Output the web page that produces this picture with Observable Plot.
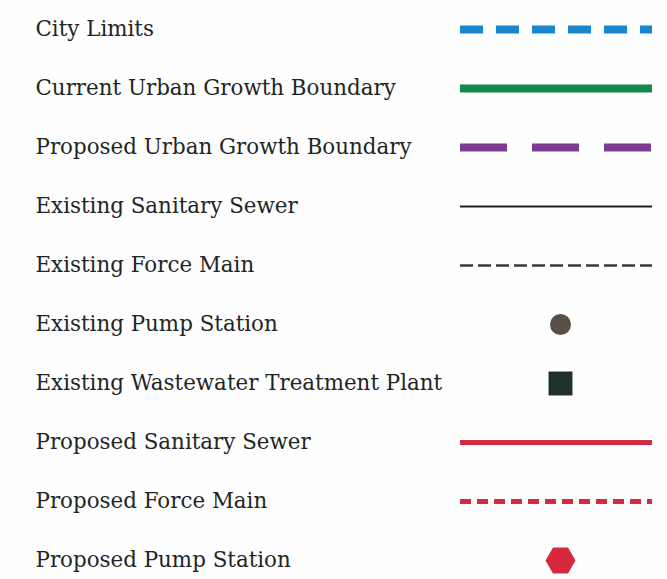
<!DOCTYPE html>
<html>
<head>
<meta charset="utf-8">
<script src="https://cdn.jsdelivr.net/npm/d3@7"></script>
<script src="https://cdn.jsdelivr.net/npm/@observablehq/plot@0.6"></script>
<style>
  html, body { margin: 0; padding: 0; background: #fefefe; }
  #chart svg { display: block; }
</style>
</head>
<body>
<div id="chart"></div>
<script>
const labels = [
  "City Limits",
  "Current Urban Growth Boundary",
  "Proposed Urban Growth Boundary",
  "Existing Sanitary Sewer",
  "Existing Force Main",
  "Existing Pump Station",
  "Existing Wastewater Treatment Plant",
  "Proposed Sanitary Sewer",
  "Proposed Force Main",
  "Proposed Pump Station"
];
const kinds   = ["line", "line", "line", "line", "line", "dot", "dot", "line", "line", "dot"];
const colors  = ["#1a87cc", "#168a4c", "#7b3b91", "#1c2222", "#3b3a37", "#5a4f45", "#1f2f2b", "#d52a45", "#d52a45", "#d8283f"];
const dashes  = ["23,13", null, "47,25", null, "13,5", null, null, null, "11,6", null];
const widths  = [8, 8, 8, 2, 2.5, 0, 0, 5, 5, 0];
const symbols = [null, null, null, null, null, "circle", "square", null, null, "hexagon"];
const radii   = [0, 0, 0, 0, 0, 10.5, 13.5, 0, 0, 13];
const rotations = [0, 0, 0, 0, 0, 0, 0, 0, 0, 90];

const rows = labels.map((label, i) => ({
  label, kind: kinds[i], color: colors[i], dash: dashes[i], width: widths[i],
  symbol: symbols[i], r: radii[i], rotate: rotations[i]
}));

const TEXT_X = 35, LINE_X1 = 460, LINE_X2 = 652, SYMBOL_X = 560;

const lineMarks = rows.filter(d => d.kind === "line").map(d =>
  Plot.ruleY([d], {
    y: "label", x1: () => LINE_X1, x2: () => LINE_X2,
    stroke: d.color, strokeWidth: d.width,
    strokeDasharray: d.dash || undefined
  })
);

const dotMarks = rows.filter(d => d.kind === "dot").map(d =>
  Plot.dot([d], {
    y: "label", x: () => SYMBOL_X,
    symbol: d.symbol, r: d.r, fill: d.color, stroke: "none", rotate: d.rotate
  })
);

const chart = Plot.plot({
  width: 667,
  height: 579,
  margin: 0,
  style: { background: "#fefefe", fontFamily: "DejaVu Serif" },
  x: { type: "linear", domain: [0, 667], range: [0, 667], axis: null },
  y: { type: "point", domain: labels, range: [25, 564], padding: 0, axis: null },
  symbol: { type: "identity" },
  marks: [
    Plot.text(rows, {
      y: "label", x: () => TEXT_X, text: "label",
      textAnchor: "start", fontSize: 21.4, fill: "#1e2626",
      fontFamily: "DejaVu Serif"
    }),
    ...lineMarks,
    ...dotMarks
  ]
});
document.getElementById("chart").appendChild(chart);
</script>
</body>
</html>
